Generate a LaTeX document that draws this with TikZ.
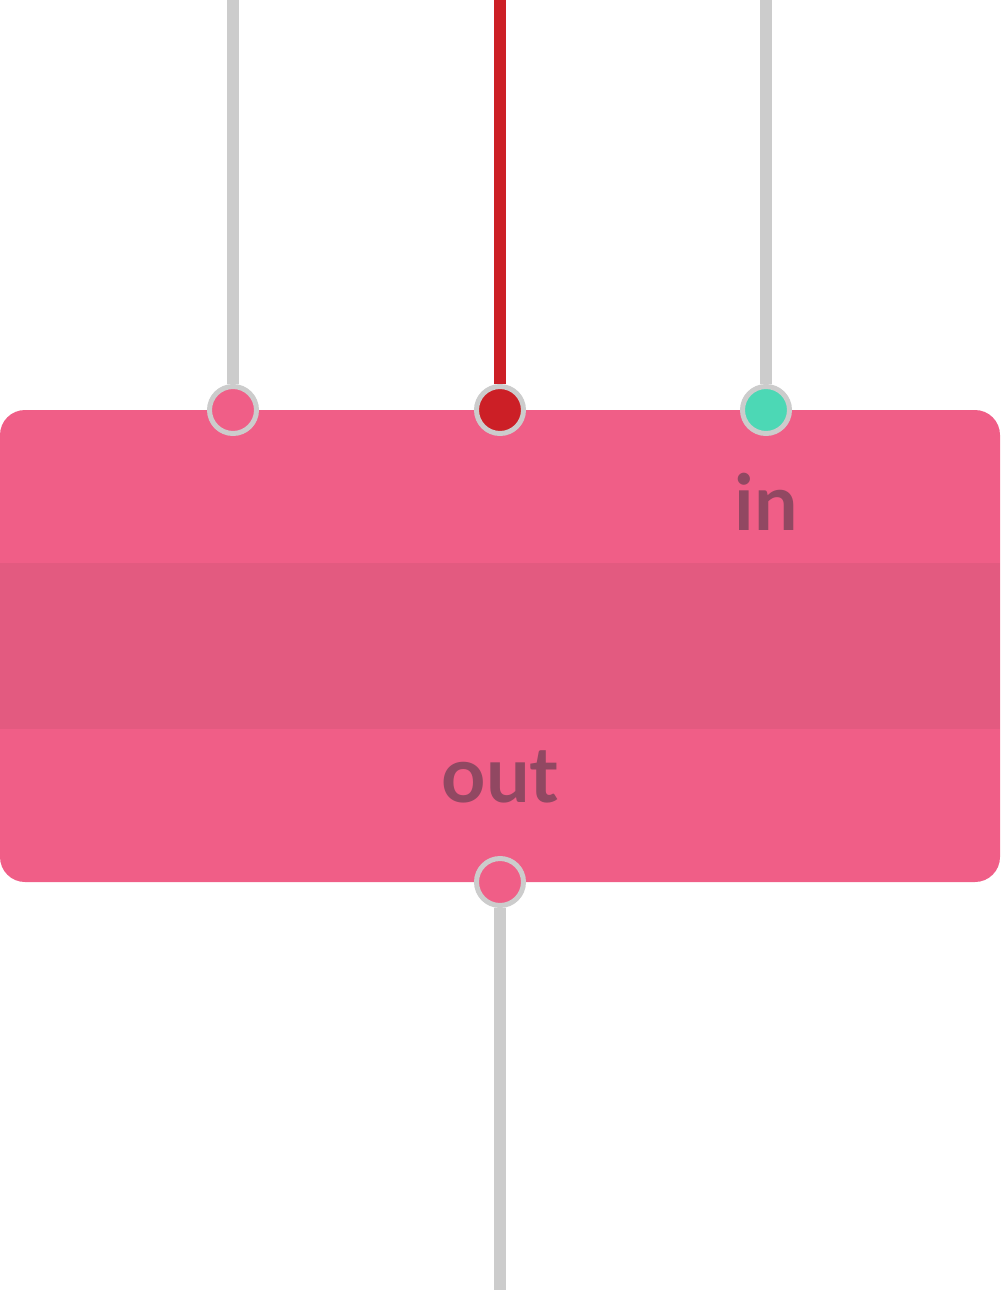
\documentclass[tikz,border=0pt]{standalone}
\usepackage{fontspec}
\setmainfont{Lato}
\usepackage{xcolor}
\definecolor{boxpink}{HTML}{F05E87}
\definecolor{bandpink}{HTML}{E35A80}
\definecolor{labelmauve}{HTML}{914862}
\definecolor{wiregray}{HTML}{CCCCCC}
\definecolor{wirered}{HTML}{CC1F26}
\definecolor{portteal}{HTML}{4CD8B5}
\tikzset{
  wire/.style={draw=wiregray, line width=9pt},
  port/.style={circle, draw=wiregray, line width=3.75pt, minimum size=35.25pt, inner sep=0pt},
  portlabel/.style={anchor=base, text=labelmauve, font=\fontsize{58}{62}\selectfont\bfseries, inner sep=0pt}
}
\begin{document}
\begin{tikzpicture}[x=0.75pt,y=0.75pt,yscale=-1,xscale=1]
        \useasboundingbox (0,0) rectangle (1000,1292);

        %Shape: Rounded Rect
        \fill[boxpink, rounded corners=18.75pt] (0,410) rectangle (1000,882);
        %Shape: Band
        \fill[bandpink] (0,563) rectangle (1000,729);

        % Text Node
        \node[portlabel] (inlabel) at (766,530) {in};
        % Text Node
        \node[portlabel] (outlabel) at (500,802) {out};

        % Ports
        \node[port, fill=boxpink] (pleft) at (233,410) {};
        \node[port, fill=wirered] (pmid) at (500,410) {};
        \node[port, fill=portteal] (pright) at (766,410) {};
        \node[port, fill=boxpink] (pout) at (500,882) {};

        % Wires
        \coordinate (tleft) at (233,0);
        \coordinate (tmid) at (500,0);
        \coordinate (tright) at (766,0);
        \coordinate (bout) at (500,1290);
        \draw[wire] (tleft) -- (pleft);
        \draw[wire, draw=wirered] (tmid) -- (pmid);
        \draw[wire] (tright) -- (pright);
        \draw[wire] (pout) -- (bout);
\end{tikzpicture}
\end{document}
